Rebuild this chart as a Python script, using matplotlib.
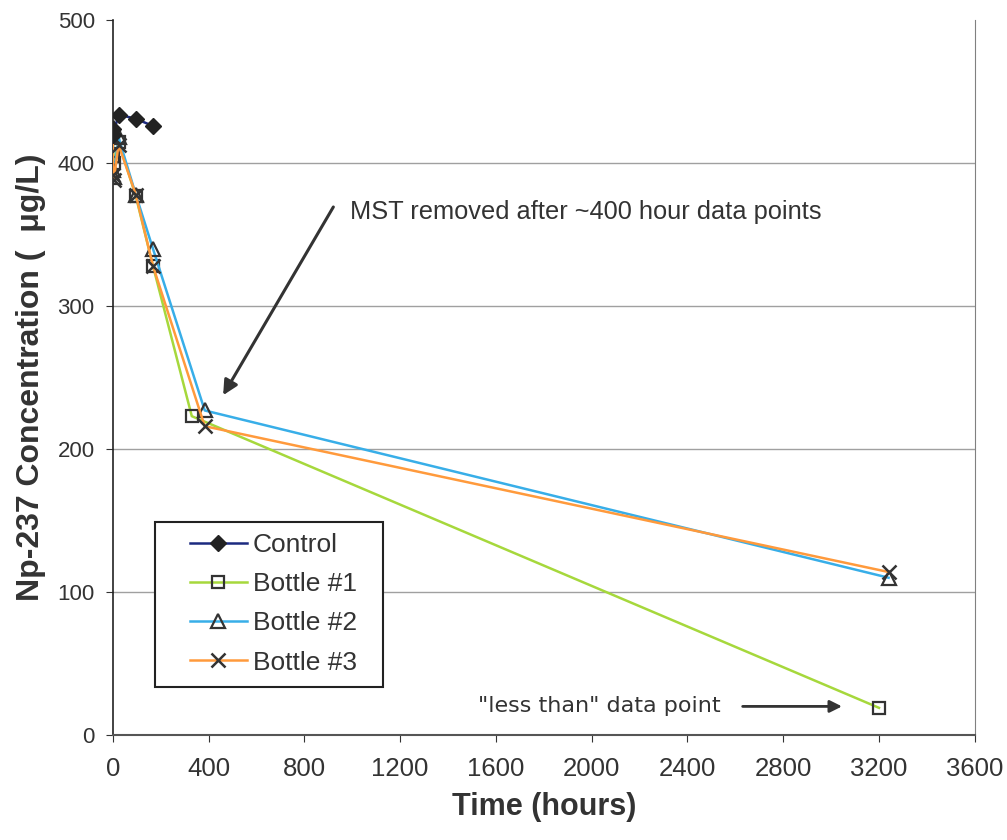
import matplotlib.pyplot as plt
from matplotlib.patches import Rectangle

plt.rcParams['font.family'] = ['Liberation Sans', 'DejaVu Sans']

# data
control_t = [0, 2, 24, 96, 168]
control_c = [424, 420, 434, 431, 426]

b1_t = [0, 1, 4, 24, 96, 168, 330, 3200]
b1_c = [420, 405, 400, 415, 377, 328, 223, 19]

b2_t = [0, 1, 4, 24, 96, 168, 384, 3240]
b2_c = [425, 395, 390, 418, 378, 340, 227, 110]

b3_t = [0, 1, 4, 24, 96, 168, 384, 3240]
b3_c = [418, 392, 388, 413, 378, 328, 216, 114]

x_ticks = [0, 400, 800, 1200, 1600, 2000, 2400, 2800, 3200, 3600]
y_ticks = [0, 100, 200, 300, 400, 500]

fig = plt.figure(figsize=(10.07, 8.4), dpi=100)
ax = fig.add_axes([0.112, 0.125, 0.856, 0.851])

mk = '#333333'
ax.plot(control_t, control_c, color='#1c2a80', lw=1.8, marker='D', ms=8,
        mfc='#222222', mec='#222222', label='Control', zorder=5)
ax.plot(b1_t, b1_c, color='#a6d83c', lw=1.8, marker='s', ms=8,
        mfc='none', mec=mk, mew=1.6, label='Bottle #1', zorder=3)
ax.plot(b2_t, b2_c, color='#38aee8', lw=1.8, marker='^', ms=10,
        mfc='none', mec=mk, mew=1.6, label='Bottle #2', zorder=3)
ax.plot(b3_t, b3_c, color='#ff9a3c', lw=1.8, marker='x', ms=10,
        mec=mk, mew=1.8, label='Bottle #3', zorder=4)

ax.set_xlim(0, 3600)
ax.set_ylim(0, 500)
ax.set_xticks(x_ticks)
ax.set_yticks(y_ticks)
ax.tick_params(axis='both', colors='#333333', direction='out', length=5)
ax.tick_params(axis='x', labelsize=18.5, pad=11)
ax.tick_params(axis='y', labelsize=16, pad=8)
for v in y_ticks[1:-1]:
    ax.axhline(v, color='#a0a0a0', lw=1, zorder=0)

ax.spines['top'].set_visible(False)
ax.spines['right'].set_color('#808080')
ax.spines['left'].set_color('#222222')
ax.spines['bottom'].set_color('#555555')
ax.spines['left'].set_linewidth(1.2)
ax.spines['bottom'].set_linewidth(1.5)

ax.set_xlabel('Time (hours)', fontsize=22, fontweight='bold', color='#333333', labelpad=8)
ax.set_ylabel('Np-237 Concentration (  \u03bcg/L)', fontsize=23, fontweight='bold',
              color='#333333', labelpad=8)

# legend box drawn separately (wide side padding like the original)
ax.add_patch(Rectangle((0.0487, 0.067), 0.2645, 0.231, transform=ax.transAxes,
                       facecolor='white', edgecolor='#222222', lw=1.5, zorder=6))
leg = ax.legend(loc='upper left', bbox_to_anchor=(0.0893, 0.282), borderaxespad=0,
                fontsize=19, frameon=False, borderpad=0,
                handlelength=2.16, handletextpad=0.23, labelspacing=0.57)
leg.set_zorder(7)
for t in leg.get_texts():
    t.set_color('#333333')

ax.annotate('', xy=(455, 236), xytext=(927, 371),
            arrowprops=dict(arrowstyle='-|>', color='#333333', lw=2.2, mutation_scale=22))
ax.text(990, 366, 'MST removed after ~400 hour data points', fontsize=18.3,
        color='#333333', va='center')

ax.text(1524, 20, '"less than" data point', fontsize=16, color='#333333', va='center',
        family=['DejaVu Sans'])
ax.annotate('', xy=(3057, 20), xytext=(2619, 20),
            arrowprops=dict(arrowstyle='-|>', color='#333333', lw=2, mutation_scale=18))

fig.savefig('out.png', dpi=100)
